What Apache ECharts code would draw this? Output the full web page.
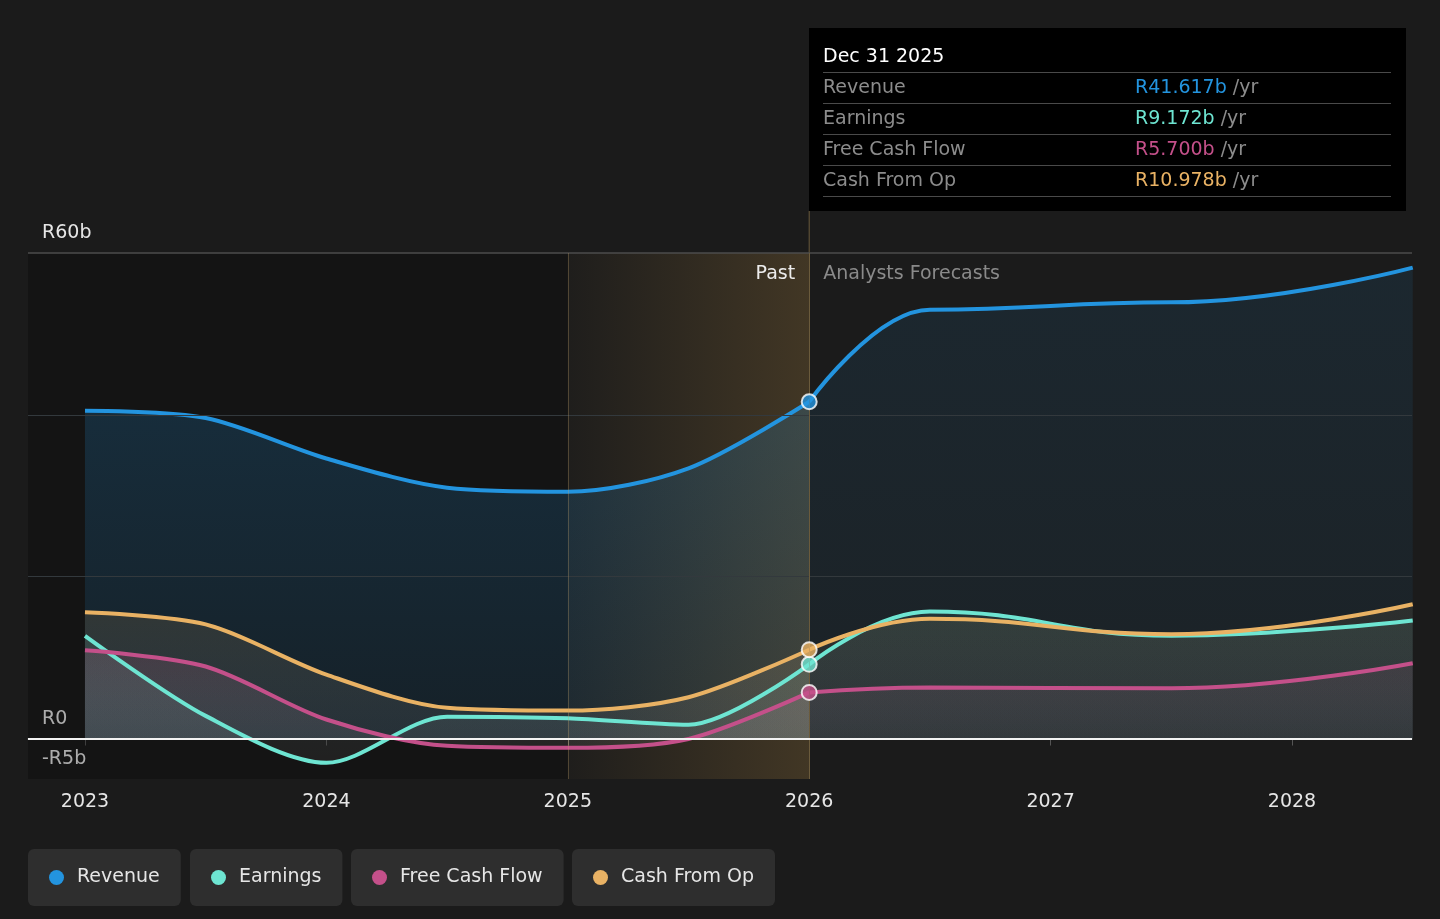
<!DOCTYPE html>
<html>
<head>
<meta charset="utf-8">
<title>Revenue, earnings and cash flow</title>
<script src="https://cdn.jsdelivr.net/npm/echarts@6/dist/echarts.min.js"></script>
<style>
  html, body { margin: 0; padding: 0; background: #1b1b1b; }
  #chart { width: 1440px; height: 919px; }
</style>
</head>
<body>
<div id="chart"></div>
<script>
// ---------- data (R billions, x = decimal year) ----------
var pastDates = [2023, 2023.5, 2024, 2024.5, 2025, 2025.5, 2026];
var futureDates = [2026, 2026.5, 2027.5, 2028.5];

var revenuePast = [40.5, 39.6, 34.6, 31.0, 30.5, 33.4, 41.617];
var earningsPast = [12.7, 2.8, -3.0, 2.7, 2.5, 1.7, 9.172];
var fcfPast = [10.9, 8.9, 2.35, -0.9, -1.15, -0.05, 5.7];
var cfoPast = [15.6, 14.1, 7.9, 3.8, 3.45, 5.1, 10.978];

var revenueFuture = [41.617, 53.0, 53.9, 58.2];
var earningsFuture = [9.172, 15.7, 12.7, 14.6];
var fcfFuture = [5.7, 6.3, 6.2, 9.3];
var cfoFuture = [10.978, 14.8, 12.9, 16.6];

var seriesNames = ['Revenue', 'Earnings', 'Free Cash Flow', 'Cash From Op'];
var seriesColors = ['#2394df', '#6ee5d2', '#c4508a', '#e9b264'];

var yearTicks = [2023, 2024, 2025, 2026, 2027, 2028];
var yLabelTicks = [-5, 0, 60];
var gridValues = [20, 40];

var xMin = 2022.764, xMax = 2028.497;
var yMin = -5, yMax = 60;
var highlightStart = 2025;   // start of last year before "now"
var nowDate = 2026;          // Dec 31 2025
var tooltipDate = 'Dec 31 2025';

// ---------- helpers ----------
var font = 'DejaVu Sans, sans-serif';
var fontSize = 19;
var tipTop = 28, tipHeight = 183;

function pairs(xs, ys) {
    return xs.map(function (x, i) { return [x, ys[i]]; });
}

// area: colour on top, fading to a faint grey near the base
function fill(color, topAlpha, bottomColor) {
    return new echarts.graphic.LinearGradient(0, 0, 0, 1, [
        { offset: 0, color: echarts.color.modifyAlpha(color, topAlpha) },
        { offset: 1, color: bottomColor }
    ]);
}

var metrics = [
    { past: revenuePast, future: revenueFuture, top: [0.28, 0.15], bottom: ['rgba(35,148,223,0.14)', 'rgba(35,148,223,0.08)'] },
    { past: earningsPast, future: earningsFuture, top: [0.14, 0.12], bottom: ['rgba(255,255,255,0.08)', 'rgba(255,255,255,0.05)'] },
    { past: fcfPast, future: fcfFuture, top: [0.22, 0.14], bottom: ['rgba(255,255,255,0.1)', 'rgba(255,255,255,0.05)'] },
    { past: cfoPast, future: cfoFuture, top: [0.18, 0.12], bottom: ['rgba(255,255,255,0.1)', 'rgba(255,255,255,0.05)'] }
];

var chart = echarts.init(document.getElementById('chart'));

var series = [];
metrics.forEach(function (m, i) {
    var base = {
        name: seriesNames[i],
        type: 'line',
        symbol: 'none',
        color: seriesColors[i],
        itemStyle: { color: seriesColors[i] },
        lineStyle: { width: 4, color: seriesColors[i] },
        emphasis: { disabled: true },
        silent: true,
        z: 2
    };
    // forecast first, so the past series (and markers) sit above it
    series.push(Object.assign({}, base, {
        data: pairs(futureDates, m.future),
        smooth: 0.45,
        smoothMonotone: 'x',
        areaStyle: { color: fill(seriesColors[i], m.top[1], m.bottom[1]) }
    }));
    series.push(Object.assign({}, base, {
        data: pairs(pastDates, m.past),
        smooth: 0.3,
        areaStyle: { color: fill(seriesColors[i], m.top[0], m.bottom[0]) }
    }));
});

// background bands, grid lines and section labels hang off the first series
series[0].markArea = {
    silent: true,
    data: [
        [{ xAxis: xMin, itemStyle: { color: 'rgba(0,0,0,0.25)' } }, { xAxis: highlightStart }],
        [{
            xAxis: highlightStart,
            itemStyle: {
                color: new echarts.graphic.LinearGradient(0, 0, 1, 0, [
                    { offset: 0, color: 'rgba(220,165,75,0.02)' },
                    { offset: 1, color: 'rgba(220,165,75,0.2)' }
                ])
            },
            label: {
                show: true, formatter: 'Past', position: 'insideTopRight', distance: 0,
                padding: [12, 14, 0, 0], color: '#ececec', fontSize: fontSize, fontFamily: font
            }
        }, { xAxis: nowDate }],
        [{
            xAxis: nowDate,
            itemStyle: { color: 'rgba(0,0,0,0)' },
            label: {
                show: true, formatter: 'Analysts Forecasts', position: 'insideTopLeft', distance: 0,
                padding: [12, 0, 0, 14], color: '#8a8a8a', fontSize: fontSize, fontFamily: font
            }
        }, { xAxis: xMax }]
    ]
};
series[0].markLine = {
    silent: true,
    symbol: ['none', 'none'],
    label: { show: false },
    lineStyle: { type: 'solid', width: 1, color: '#33393d' },
    data: gridValues.map(function (v) { return { yAxis: v }; }).concat([
        { yAxis: yMax, lineStyle: { color: '#4d4d4d', width: 1.5 } },
        { xAxis: highlightStart, lineStyle: { color: 'rgba(200,165,110,0.3)' } },
        { xAxis: nowDate, lineStyle: { color: '#6b5b3c' } }
    ])
};
// zero line above the areas
series[series.length - 1].markLine = {
    silent: true,
    symbol: ['none', 'none'],
    label: { show: false },
    lineStyle: { type: 'solid', width: 2, color: '#f2f2f2' },
    data: [{ yAxis: 0 }]
};

// markers at "now"
series.push({
    type: 'scatter',
    z: 10,
    symbolSize: 15,
    emphasis: { disabled: true },
    data: metrics.map(function (m, i) {
        return {
            value: [nowDate, m.past[m.past.length - 1]],
            itemStyle: { color: seriesColors[i], borderColor: '#ffffff', borderWidth: 2 }
        };
    })
});
var markerIndex = series.length - 1;

var legendLefts = [28, 190, 351, 572];

var option = {
    backgroundColor: '#1b1b1b',
    animation: false,
    textStyle: { fontFamily: font },
    grid: { left: 28, right: 28, top: 253, bottom: 140, containLabel: false, outerBoundsMode: 'none' },
    xAxis: {
        type: 'value',
        min: xMin,
        max: xMax,
        axisLine: { lineStyle: { color: '#444444', width: 1.5 } },
        axisTick: { customValues: yearTicks, length: 7, lineStyle: { color: '#555555' } },
        axisLabel: {
            customValues: yearTicks, color: '#e6e6e6', fontSize: fontSize, margin: 14,
            formatter: function (v) { return String(v); }
        },
        splitLine: { show: false }
    },
    yAxis: {
        type: 'value',
        min: yMin,
        max: yMax,
        axisLine: { show: false },
        axisTick: { show: false },
        splitLine: { show: false },
        axisLabel: {
            customValues: yLabelTicks,
            inside: true,
            margin: 14,
            verticalAlign: 'bottom',
            padding: [0, 0, 10, 0],
            color: '#e6e6e6',
            fontSize: fontSize,
            formatter: function (v) {
                if (v === 0) return 'R0';
                return (v < 0 ? '-R' + (-v) : 'R' + v) + 'b';
            }
        }
    },
    legend: seriesNames.map(function (n, i) {
        return {
            data: [n],
            left: legendLefts[i],
            top: 849,
            icon: 'circle',
            itemWidth: 15,
            itemHeight: 15,
            padding: [19, 21, 19, 21],
            backgroundColor: '#2e2e2e',
            borderRadius: 6,
            textStyle: { color: '#e6e6e6', fontSize: fontSize, fontFamily: font, padding: [0, 0, 0, 8] }
        };
    }),
    tooltip: {
        trigger: 'item',
        triggerOn: 'none',
        alwaysShowContent: true,
        transitionDuration: 0,
        backgroundColor: '#000000',
        borderWidth: 0,
        borderRadius: 0,
        padding: [14, 15, 14, 14],
        extraCssText: 'box-shadow:none;',
        position: function () {
            return [chart.convertToPixel({ xAxisIndex: 0 }, nowDate), tipTop];
        },
        formatter: function () {
            var line = 'border-top:1px solid #4a4a4a;';
            var rows = metrics.map(function (m, i) {
                var v = m.past[m.past.length - 1];
                return '<div style="display:flex;' + line + 'height:30px;line-height:27px;">' +
                    '<span style="width:312px;color:#8c8c8c;">' + seriesNames[i] + '</span>' +
                    '<span style="color:' + seriesColors[i] + ';">R' + v.toFixed(3) + 'b</span>' +
                    '<span style="color:#8c8c8c;">&nbsp;/yr</span></div>';
            }).join('');
            return '<div style="font-family:DejaVu Sans,sans-serif;font-size:' + fontSize + 'px;width:568px;">' +
                '<div style="color:#ffffff;line-height:26px;margin-bottom:4px;">' + tooltipDate + '</div>' +
                rows + '<div style="' + line + '"></div></div>';
        }
    },
    series: series
};

chart.setOption(option);

// connector from the tooltip down to the plot
var nowX = chart.convertToPixel({ xAxisIndex: 0 }, nowDate);
var topY = chart.convertToPixel({ yAxisIndex: 0 }, yMax);
chart.setOption({
    graphic: [{
        type: 'line',
        silent: true,
        shape: { x1: nowX, y1: tipTop + tipHeight, x2: nowX, y2: topY },
        style: { stroke: '#6b5b3c', lineWidth: 1 }
    }]
});

chart.dispatchAction({ type: 'showTip', seriesIndex: markerIndex, dataIndex: 0 });
</script>
</body>
</html>
